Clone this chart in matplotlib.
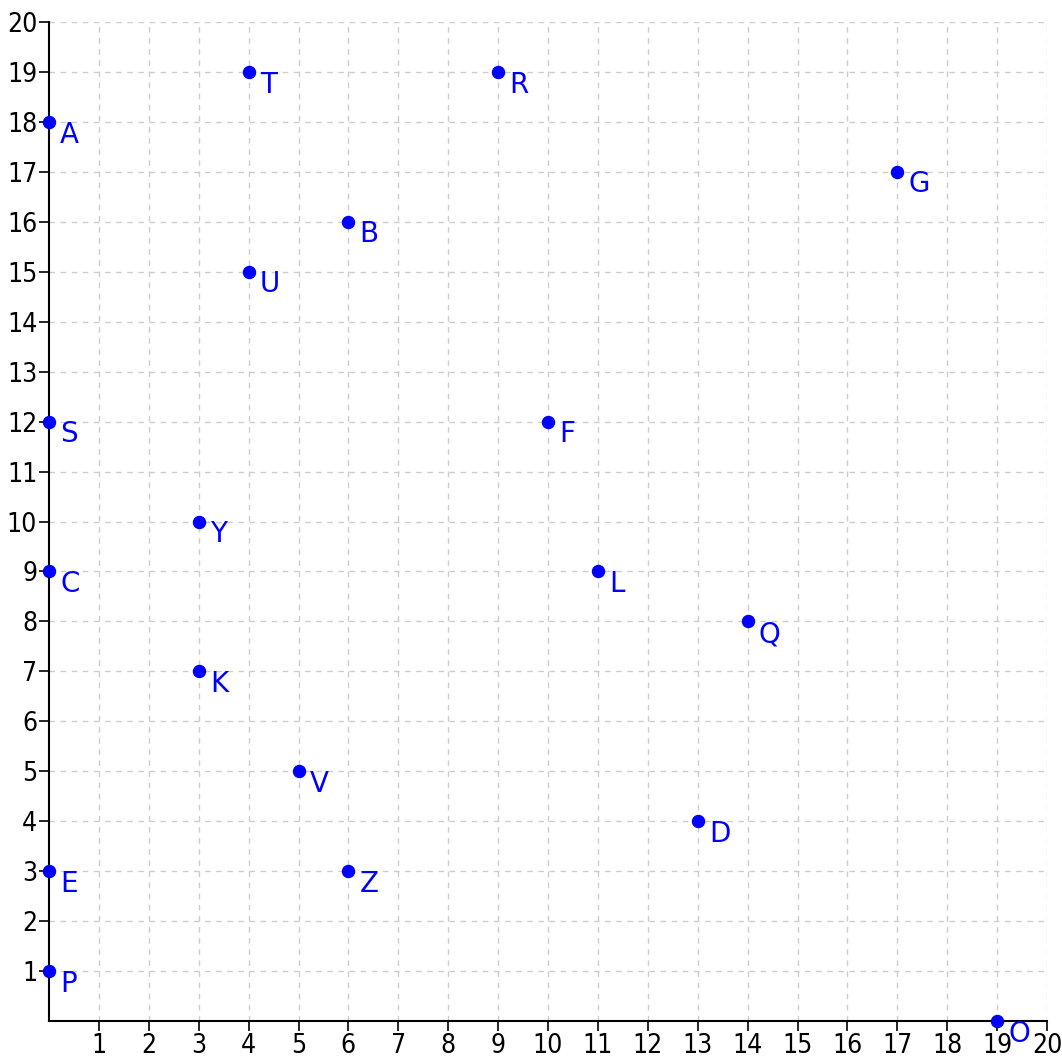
import matplotlib
matplotlib.use("Agg")
from matplotlib import pyplot as plt

# point names and coordinates
names = ["A", "B", "C", "D", "E", "F", "G", "K", "L", "O",
         "P", "Q", "R", "S", "T", "U", "V", "Y", "Z"]
xs = [0, 6, 0, 13, 0, 10, 17, 3, 11, 19, 0, 14, 9, 0, 4, 4, 5, 3, 6]
ys = [18, 16, 9, 4, 3, 12, 17, 7, 9, 0, 1, 8, 19, 12, 19, 15, 5, 10, 3]
ticks = list(range(1, 21))

plt.rcParams['font.family'] = ['DejaVu Sans']
plt.rcParams['font.stretch'] = 'condensed'

fig = plt.figure(figsize=(10.62, 10.59), dpi=100)
ax = fig.add_axes([49/1062, 38/1059, 998/1062, 999/1059])

ax.scatter(xs, ys, s=75, color="blue", zorder=3, clip_on=False)
for n, x, y in zip(names, xs, ys):
    ax.annotate(n, (x, y), xytext=(8, 1), textcoords="offset points",
                ha="left", va="top", color="blue", fontsize=20,
                family=["DejaVu Sans"], stretch="normal",
                annotation_clip=False)

ax.set_xlim(0, 20)
ax.set_ylim(0, 20)
ax.set_xticks(ticks)
ax.set_yticks(ticks)
ax.tick_params(labelsize=19, length=7, width=1.2, direction="out", pad=1.5)
ax.grid(True, color="#cccccc", linestyle=(0, (4, 4)), linewidth=1)
ax.set_axisbelow(True)
ax.spines["top"].set_visible(False)
ax.spines["right"].set_visible(False)
ax.spines["left"].set_linewidth(1.5)
ax.spines["bottom"].set_linewidth(1.5)

plt.savefig("out.png", dpi=100)
